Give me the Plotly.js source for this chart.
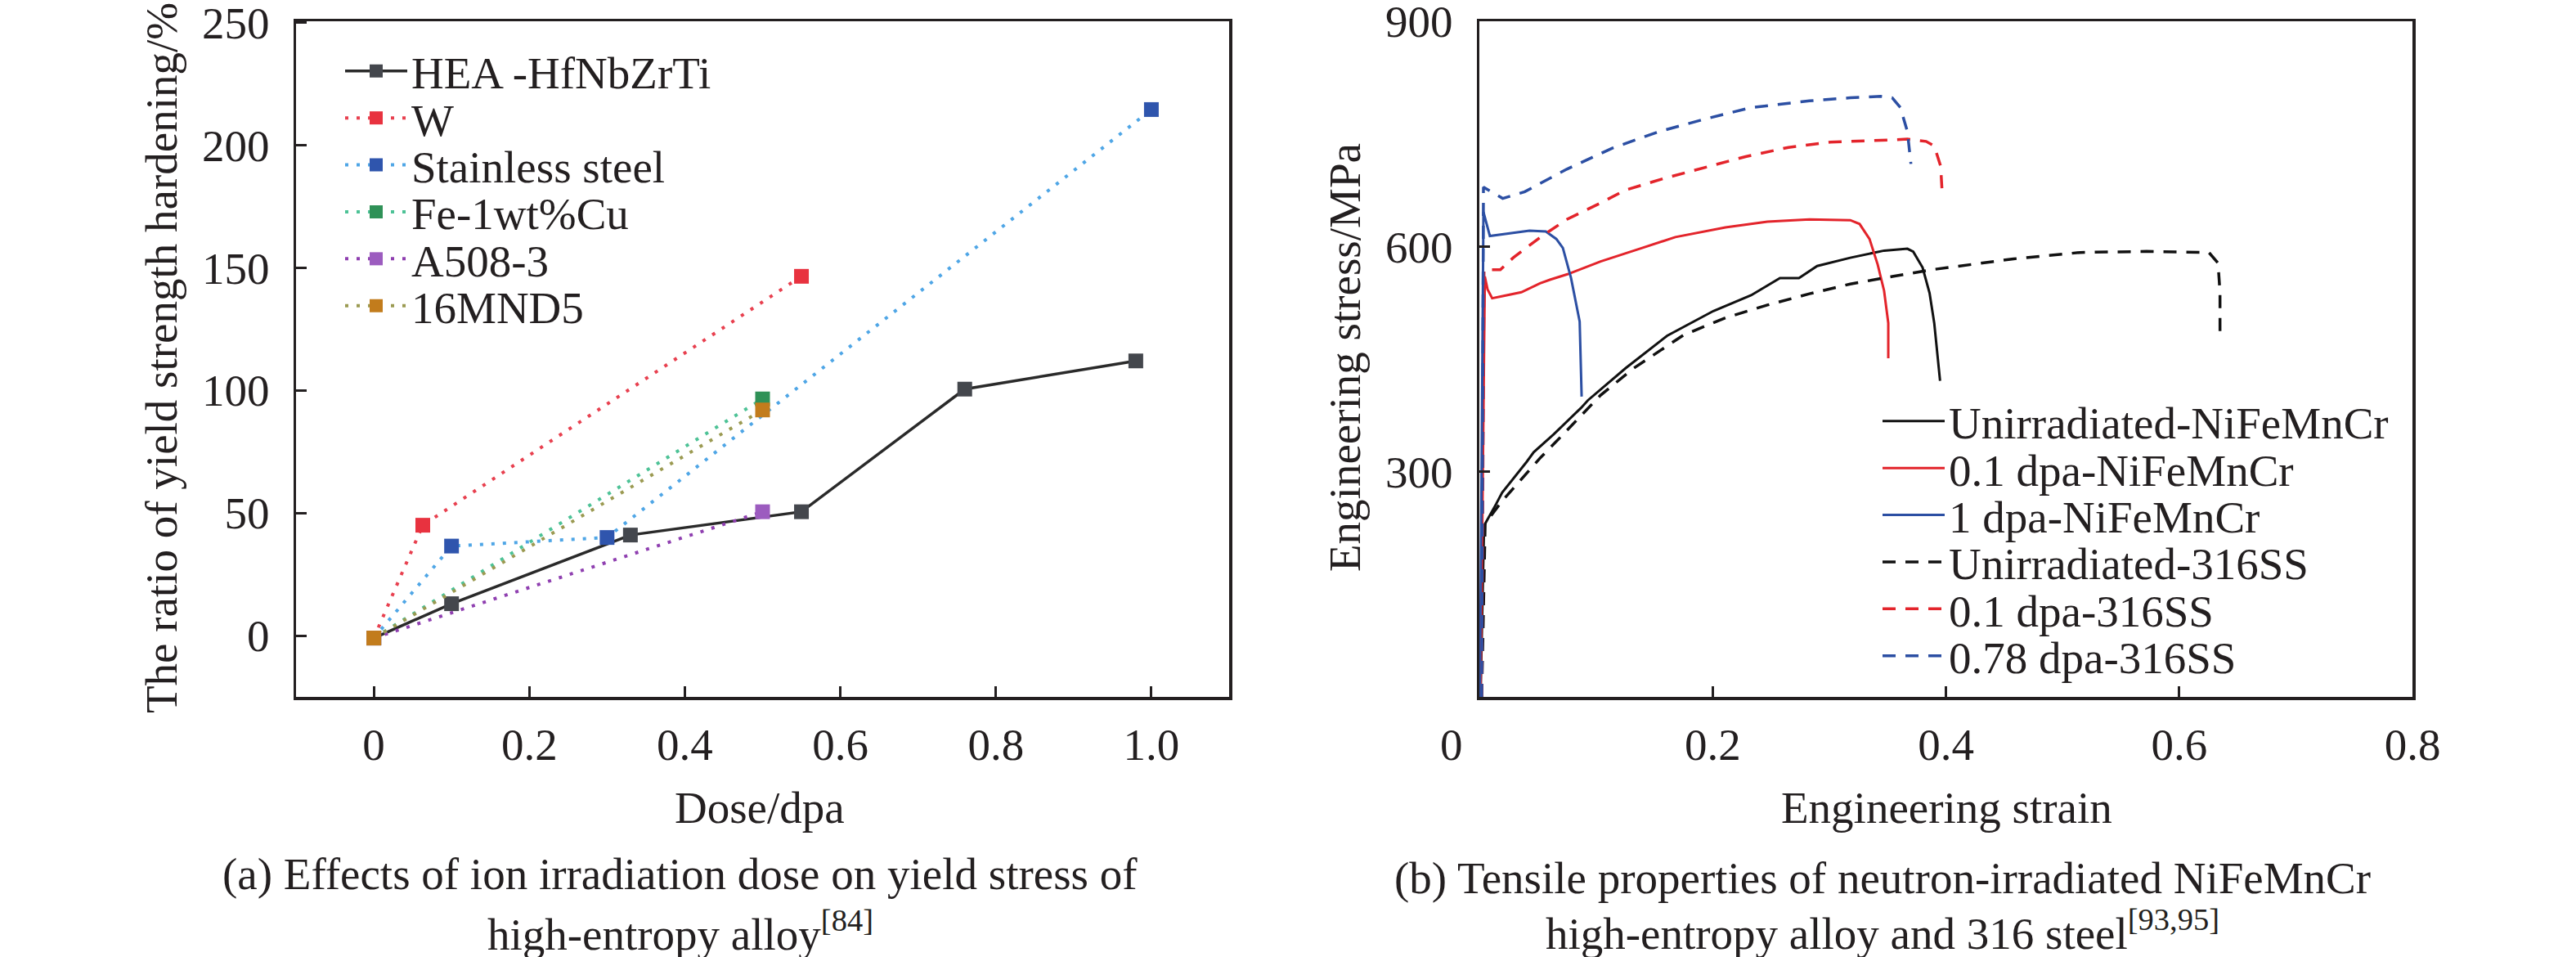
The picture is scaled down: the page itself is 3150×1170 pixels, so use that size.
<!DOCTYPE html>
<html>
<head>
<meta charset="utf-8">
<script src="https://cdn.plot.ly/plotly-3.0.1.min.js"></script>
<style>
  html, body { margin: 0; padding: 0; background: #ffffff; }
  #chart { width: 3150px; height: 1170px; }
</style>
</head>
<body>
<div id="chart"></div>
<script>
// (a) yield strength hardening ratio vs dose
const seriesA = ["HEA -HfNbZrTi", "W", "Stainless steel", "Fe-1wt%Cu", "A508-3", "16MND5"];
const doseHEA = [0, 0.1, 0.33, 0.55, 0.76, 0.98];
const ratioHEA = [-1, 13, 41, 50.5, 100.5, 112];
const doseW = [0, 0.063, 0.55];
const ratioW = [-1, 45, 146.5];
const doseSS = [0, 0.1, 0.3, 1.0];
const ratioSS = [-1, 36.5, 40, 214.5];
const doseFeCu = [0, 0.5];
const ratioFeCu = [-1, 96.5];
const doseA508 = [0, 0.5];
const ratioA508 = [-1, 50.5];
const dose16MND5 = [0, 0.5];
const ratio16MND5 = [-1, 92];
const doseTicks = [0, 0.2, 0.4, 0.6, 0.8, 1.0];
const doseTickText = ["0", "0.2", "0.4", "0.6", "0.8", "1.0"];
const ratioTicks = [0, 50, 100, 150, 200, 250];

// (b) engineering stress-strain curves
const seriesB = ["Unirradiated-NiFeMnCr", "0.1 dpa-NiFeMnCr", "1 dpa-NiFeMnCr",
                 "Unirradiated-316SS", "0.1 dpa-316SS", "0.78 dpa-316SS"];
const strainU_HEA = [0.001, 0.004, 0.0144, 0.0195, 0.0405, 0.0466, 0.0638, 0.0872, 0.093, 0.1255, 0.161, 0.2006, 0.233, 0.2577, 0.274, 0.2896, 0.318, 0.347, 0.367, 0.372, 0.380, 0.386, 0.390, 0.392, 0.395];
const stressU_HEA = [0, 228, 257, 272, 313, 326, 350, 385, 395, 438, 481, 514, 535, 558, 558, 574, 585, 594.5, 597, 593, 572, 538, 498, 468, 421];
const strain01_HEA = [0.001, 0.0047, 0.007, 0.011, 0.02, 0.036, 0.052, 0.061, 0.0755, 0.104, 0.1396, 0.168, 0.211, 0.247, 0.283, 0.318, 0.326, 0.3345, 0.3415, 0.347, 0.3506, 0.3506];
const stress01_HEA = [0, 560, 543, 531, 534, 539, 551, 556, 563, 580, 598, 612.5, 625.5, 633, 636, 635, 630, 610, 576, 541, 498, 451];
const strain1_HEA = [0.0005, 0.0035, 0.009, 0.0195, 0.043, 0.057, 0.066, 0.0716, 0.0786, 0.086, 0.0877];
const stress1_HEA = [0, 646, 614, 616, 621, 620, 610, 598, 558, 500, 400];
const strainU_SS = [0.002, 0.005, 0.019, 0.052, 0.072, 0.104, 0.1325, 0.175, 0.211, 0.247, 0.283, 0.318, 0.354, 0.390, 0.412, 0.458, 0.515, 0.572, 0.6255, 0.6333, 0.635, 0.635];
const stressU_SS = [0, 231, 260, 318, 350, 402, 438, 482, 505, 522, 537, 550, 560, 569.5, 574, 583.5, 592, 593.5, 592, 578, 539, 483];
const strain01_SS = [0.002, 0.004, 0.018, 0.029, 0.052, 0.075, 0.104, 0.125, 0.158, 0.194, 0.229, 0.265, 0.301, 0.337, 0.367, 0.383, 0.390, 0.3955, 0.397];
const stress01_SS = [0, 569, 569, 585, 612, 636, 658, 675, 690.5, 705, 720, 732, 739, 741, 743, 740, 734, 707, 666];
const strain078_SS = [0.002, 0.0035, 0.02, 0.039, 0.075, 0.114, 0.154, 0.194, 0.233, 0.283, 0.318, 0.344, 0.354, 0.361, 0.367, 0.370];
const stress078_SS = [0, 679, 664, 673, 703, 731, 753, 770, 785, 794, 798, 800, 798, 785, 753, 710];
const strainTicks = [0, 0.2, 0.4, 0.6, 0.8];
// the origin label sits a little left of the axis in the figure
const strainTickText = ["0\u00a0\u00a0\u00a0\u00a0\u00a0", "0.2", "0.4", "0.6", "0.8"];
const stressTicks = [300, 600, 900];

const W = 3150, H = 1170;
const ink = "#231f20";
const serif = "Liberation Serif, Times New Roman, serif";
const fs = 55;

// pixel helpers for layout placement (not data)
const px = v => v / W;
const py = v => 1 - v / H;

const dotted = "4px,10px";
const dashed = "16px,12px";

function dotTrace(x, y, name, markerColor, lineColor, dash, legendId) {
    return {
        x: x, y: y, name: name, type: "scatter", mode: "lines+markers",
        xaxis: "x", yaxis: "y", legend: legendId,
        line: { color: lineColor, width: dash ? 4 : 3.5, dash: dash || "solid" },
        marker: { symbol: "square", size: 18, color: markerColor, line: { width: 0 } }
    };
}

function curveTrace(x, y, name, color, dash, legendId) {
    return {
        x: x, y: y, name: name, type: "scatter", mode: "lines",
        xaxis: "x2", yaxis: "y2", legend: legendId,
        line: { color: color, width: dash ? 3.5 : 3, dash: dash || "solid" }
    };
}

const traces = [
    dotTrace(doseHEA, ratioHEA, seriesA[0], "#44474d", "#2a2a2a", null, "legend"),
    dotTrace(doseW, ratioW, seriesA[1], "#e8323f", "#e8404f", dotted, "legend2"),
    dotTrace(doseSS, ratioSS, seriesA[2], "#2f55ad", "#4fa6e6", dotted, "legend3"),
    dotTrace(doseFeCu, ratioFeCu, seriesA[3], "#2f9157", "#4dc296", dotted, "legend4"),
    dotTrace(doseA508, ratioA508, seriesA[4], "#9c5cbf", "#8f3fb0", dotted, "legend5"),
    dotTrace(dose16MND5, ratio16MND5, seriesA[5], "#c27c1c", "#9b9a52", dotted, "legend6"),
    curveTrace(strainU_HEA, stressU_HEA, seriesB[0], "#111111", null, "legend7"),
    curveTrace(strain01_HEA, stress01_HEA, seriesB[1], "#e3242b", null, "legend8"),
    curveTrace(strain1_HEA, stress1_HEA, seriesB[2], "#2c4fa3", null, "legend9"),
    curveTrace(strainU_SS, stressU_SS, seriesB[3], "#111111", dashed, "legend10"),
    curveTrace(strain01_SS, stress01_SS, seriesB[4], "#e3242b", dashed, "legend11"),
    curveTrace(strain078_SS, stress078_SS, seriesB[5], "#2c4fa3", dashed, "legend12")
];

// one legend per row so the row pitch matches the figure
function legendRow(xPx, yPx) {
    return {
        x: px(xPx), y: py(yPx), xanchor: "left", yanchor: "middle",
        bgcolor: "rgba(0,0,0,0)", borderwidth: 0, itemwidth: 76,
        itemsizing: "trace", font: { family: serif, size: fs, color: ink }
    };
}

const rowGap = 57.4;
const legends = {};
for (let i = 0; i < 6; i++) {
    legends[i === 0 ? "legend" : "legend" + (i + 1)] = legendRow(417, 87 + i * rowGap);
    legends["legend" + (i + 7)] = legendRow(2297, 515 + i * rowGap);
}

const axisBase = {
    showline: true, mirror: true, linecolor: ink, linewidth: 3.5,
    ticks: "inside", ticklen: 13, tickwidth: 3, tickcolor: ink,
    showgrid: false, zeroline: false, ticklabeloverflow: "allow",
    tickfont: { family: serif, size: fs, color: ink }
};

const plotTop = 26, plotBottom = 852;

function note(text, xPx, yPx, angle) {
    return {
        text: text, xref: "paper", yref: "paper", x: px(xPx), y: py(yPx),
        xanchor: "center", yanchor: "middle", showarrow: false,
        textangle: angle || 0, font: { family: serif, size: fs, color: ink }
    };
}

const layout = Object.assign({
    width: W, height: H,
    margin: { l: 0, r: 0, t: 0, b: 0 },
    paper_bgcolor: "#ffffff", plot_bgcolor: "#ffffff",
    font: { family: serif, size: fs, color: ink },
    showlegend: true,
    xaxis: Object.assign({}, axisBase, {
        domain: [px(362), px(1503)], range: [-0.1, 1.1], anchor: "y",
        tickvals: doseTicks, ticktext: doseTickText, ticklabelstandoff: 7
    }),
    yaxis: Object.assign({}, axisBase, {
        domain: [py(plotBottom), py(plotTop)], range: [-25, 250.5], anchor: "x",
        tickvals: ratioTicks, ticklabelstandoff: 18
    }),
    xaxis2: Object.assign({}, axisBase, {
        domain: [px(1809), px(2950)], range: [0, 0.8], anchor: "y2",
        tickvals: strainTicks, ticktext: strainTickText, ticklabelstandoff: 7
    }),
    yaxis2: Object.assign({}, axisBase, {
        domain: [py(plotBottom), py(plotTop)], range: [0, 900], anchor: "x2",
        tickvals: stressTicks, ticklabelstandoff: 18
    }),
    annotations: [
        note("The ratio of yield strength hardening/%", 197, 437, -90),
        note("Engineering stress/MPa", 1644, 437, -90),
        note("Dose/dpa", 929, 987),
        note("Engineering strain", 2380, 987),
        note("(a) Effects of ion irradiation dose on yield stress of", 831, 1068),
        note("high-entropy alloy<sup>[84]</sup>", 832, 1138),
        note("(b) Tensile properties of neutron-irradiated NiFeMnCr", 2302, 1073),
        note("high-entropy alloy and 316 steel<sup>[93,95]</sup>", 2302, 1137)
    ]
}, legends);

Plotly.newPlot("chart", traces, layout, { displayModeBar: false, staticPlot: true });
</script>
</body>
</html>
